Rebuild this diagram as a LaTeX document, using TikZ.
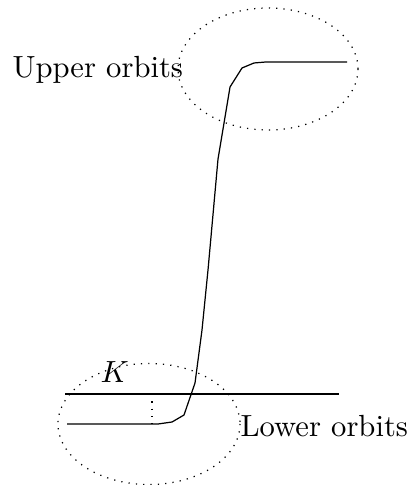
\documentclass[tikz,border=0pt]{standalone}
\begin{document}
\begin{tikzpicture}[x=0.3268pt, y=-0.3268pt, >=latex,
	orbit/.style={dotted},
	lbl/.style={anchor=base west, inner sep=0pt}]
		
		\useasboundingbox (0,0) rectangle (409,485);
		
		% Points on the curve
		\coordinate (L0) at (67,424);
		\coordinate (L1) at (158,424);
		\coordinate (L2) at (172,422);
		\coordinate (L3) at (184,415);
		\coordinate (M0) at (195,383);
		\coordinate (M1) at (202,330);
		\coordinate (M2) at (208,270);
		\coordinate (M3) at (218,159);
		\coordinate (U0) at (230,87);
		\coordinate (U1) at (242,68);
		\coordinate (U2) at (254,63);
		\coordinate (U3) at (266,62);
		\coordinate (U4) at (347,62);
		
		% Level K
		\coordinate (K0) at (65,394);
		\coordinate (K1) at (339,394);
		\coordinate (KL) at (152,394);
		\coordinate (KD) at (152,424);
		
		% Curve
		\draw (L0) -- (L1) -- (L2) -- (L3) -- (M0) -- (M1) -- (M2) -- (M3)
			-- (U0) -- (U1) -- (U2) -- (U3) -- (U4);
		
		% Horizontal line and dotted drop
		\draw (K0) -- (K1);
		\draw[orbit] (KL) -- (KD);
		\node[lbl] (k) at (100,383) {$K$};
		
		% Orbit regions
		\draw[orbit] (268,69) ellipse [x radius=90, y radius=61];
		\draw[orbit] (149,424) ellipse [x radius=91, y radius=60.5];
		
		% Labels
		\node[lbl] (upper) at (12,78) {Upper orbits};
		\node[lbl] (lower) at (240,436) {Lower orbits};
		
	\end{tikzpicture}
\end{document}
